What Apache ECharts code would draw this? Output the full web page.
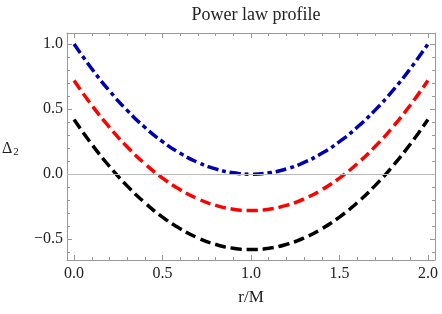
<!DOCTYPE html>
<html><head><meta charset="utf-8">
<script src="https://cdn.jsdelivr.net/npm/echarts@6/dist/echarts.min.js"></script>
<style>html,body{margin:0;padding:0;background:#fff}#c{width:442px;height:314px}</style>
</head><body><div id="c"></div>
<script>
const xs = [0,0.1,0.2,0.3,0.4,0.5,0.6,0.7,0.8,0.9,1.0,1.1,1.2,1.3,1.4,1.5,1.6,1.7,1.8,1.9,2.0];
const blueVals = [1.00,0.81,0.64,0.49,0.36,0.25,0.16,0.09,0.04,0.01,0.00,0.01,0.04,0.09,0.16,0.25,0.36,0.49,0.64,0.81,1.00];
const redVals = [0.72,0.53,0.36,0.21,0.08,-0.03,-0.12,-0.19,-0.24,-0.27,-0.28,-0.27,-0.24,-0.19,-0.12,-0.03,0.08,0.21,0.36,0.53,0.72];
const blackVals = [0.42,0.23,0.06,-0.09,-0.22,-0.33,-0.42,-0.49,-0.54,-0.57,-0.58,-0.57,-0.54,-0.49,-0.42,-0.33,-0.22,-0.09,0.06,0.23,0.42];
const xMajor = [0,0.5,1.0,1.5,2.0];
const xMinor = [0.1,0.2,0.3,0.4,0.6,0.7,0.8,0.9,1.1,1.2,1.3,1.4,1.6,1.7,1.8,1.9];
const yMajor = [-0.5,0,0.5,1.0];
const yMinor = [-0.6,-0.4,-0.3,-0.2,-0.1,0.1,0.2,0.3,0.4,0.6,0.7,0.8,0.9];
const titleText = 'Power law profile';
const xName = 'r/M';

const FONT = "'Liberation Serif', 'Times New Roman', serif";
const AX = '#999';
const XMIN=-0.04, XMAX=2.04, YMIN=-0.66, YMAX=1.085;

function xa(pos, ticks, len, labels, line){
  return {type:'value', position:pos, min:XMIN, max:XMAX,
    axisLine:{show:line, onZero:false, lineStyle:{color:AX,width:1}},
    axisTick:{show:true, inside:true, length:len, customValues:ticks, lineStyle:{color:AX}},
    axisLabel:labels?{show:true, customValues:xMajor, formatter:v=>v.toFixed(1), color:'#222', fontFamily:FONT, fontSize:16, margin:6}:{show:false},
    splitLine:{show:false}};
}
function ya(pos, ticks, len, labels, line){
  return {type:'value', position:pos, min:YMIN, max:YMAX,
    axisLine:{show:line, onZero:false, lineStyle:{color:AX,width:1}},
    axisTick:{show:true, inside:true, length:len, customValues:ticks, lineStyle:{color:AX}},
    axisLabel:labels?{show:true, customValues:yMajor, formatter:v=>(v<0?'\u2212'+(-v).toFixed(1):v.toFixed(1)), color:'#222', fontFamily:FONT, fontSize:16, margin:4}:{show:false},
    splitLine:{show:false}};
}
const xAxis=[xa('bottom',xMajor,5,true,true), xa('bottom',xMinor,3,false,false), xa('top',xMajor,5,false,true), xa('top',xMinor,3,false,false)];
xAxis[0].name=xName; xAxis[0].nameLocation='middle'; xAxis[0].nameGap=29;
xAxis[0].nameTextStyle={fontFamily:FONT,fontSize:17,color:'#222'};
const yAxis=[ya('left',yMajor,5,true,true), ya('left',yMinor,3,false,false), ya('right',yMajor,5,false,true), ya('right',yMinor,3,false,false)];

function mk(vals){return xs.map((x,i)=>[x,vals[i]]);}
const chart=echarts.init(document.getElementById('c'),null,{renderer:'canvas'});
chart.setOption({
  animation:false,
  textStyle:{fontFamily:FONT},
  title:{text:titleText,left:251,top:1,textAlign:'center',textStyle:{fontFamily:FONT,fontSize:18,fontWeight:'normal',color:'#222'}},
  grid:{left:67,right:7,top:33,bottom:54},
  xAxis, yAxis,
  graphic:[{type:'text',left:2,top:141,style:{text:'{a|\u0394}{b|2}',fontFamily:FONT,rich:{a:{fontFamily:FONT,fontSize:16,fill:'#222'},b:{fontFamily:FONT,fontSize:11,fill:'#222',padding:[7,0,0,1]}}}}],
  series:[
    {type:'line',data:mk(blackVals),smooth:true,showSymbol:false,clip:false,lineStyle:{color:'#000',width:3.5,type:[11,5],cap:'butt'},
     markLine:{silent:true,symbol:'none',label:{show:false},lineStyle:{color:'#bbb',width:1,type:'solid'},data:[{yAxis:0}]}},
    {type:'line',data:mk(redVals),smooth:true,showSymbol:false,clip:false,lineStyle:{color:'#ff0000',width:3.5,type:[11,5],cap:'butt'}},
    {type:'line',data:mk(blueVals),smooth:true,showSymbol:false,clip:false,lineStyle:{color:'#0000b3',width:3.5,type:[11,4,4,4],cap:'butt'}}
  ]
});
</script></body></html>
